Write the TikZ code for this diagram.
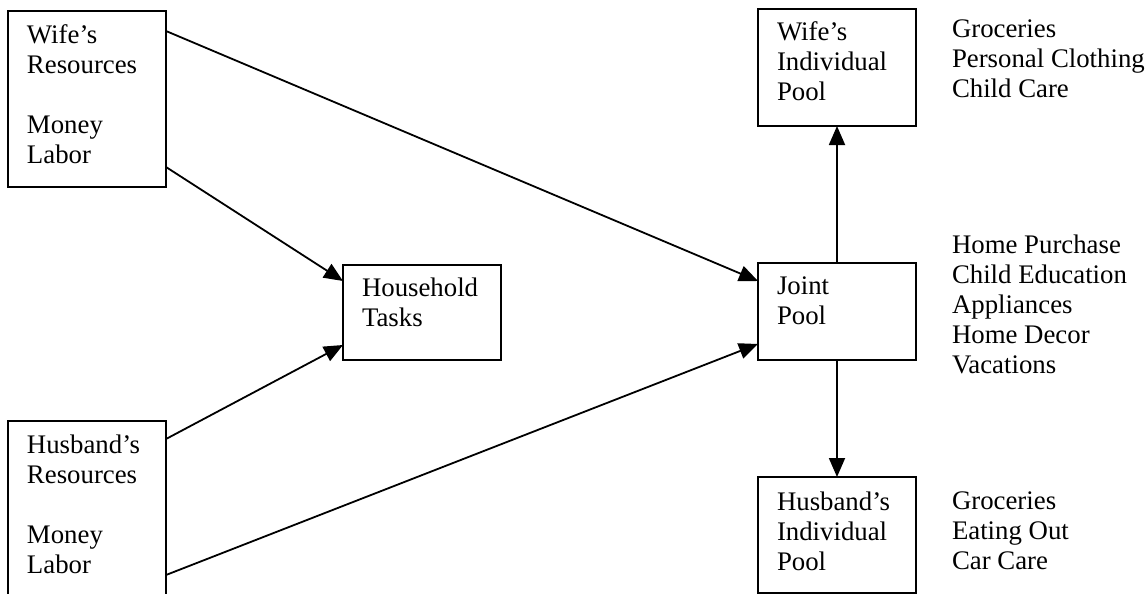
\documentclass[tikz,border=0pt]{standalone}
\usepackage{fontspec}
\setmainfont{Liberation Serif}
\usetikzlibrary{arrows.meta}

\tikzset{
  box/.style={draw, line width=2pt, rectangle, minimum width=158pt, inner sep=0pt, outer sep=0pt},
  txt/.style={anchor=north west, align=left, inner sep=0pt, outer sep=0pt,
              font=\fontsize{26.8}{30}\selectfont},
  link/.style={line width=1.8pt, -{Triangle[length=19pt,width=16pt]}},
}

\begin{document}
\begin{tikzpicture}[x=1pt, y=-1pt]
  \clip (0,0) rectangle (1148,594);
  \fill[white] (0,0) rectangle (1148,594);

  % boxes
  \node[box, minimum height=176pt] (wres)  at (87,99)    {};
  \node[box, minimum height=176pt] (hres)  at (87,509)   {};
  \node[box, minimum height=95pt]  (hh)    at (422,312.5) {};
  \node[box, minimum height=117pt] (wpool) at (837,67.5) {};
  \node[box, minimum height=97pt]  (joint) at (837,311.5) {};
  \node[box, minimum height=116pt] (hpool) at (837,535)  {};

  % box texts
  \node[txt] (wrest)  at (27,25)  {Wife’s\\Resources\\[30pt]Money\\Labor};
  \node[txt] (hrest)  at (27,435) {Husband’s\\Resources\\[30pt]Money\\Labor};
  \node[txt] (hht)    at (362,278) {Household\\Tasks};
  \node[txt] (wpoolt) at (777,22) {Wife’s\\Individual\\Pool};
  \node[txt] (jointt) at (777,277) {Joint\\Pool};
  \node[txt] (hpoolt) at (777,492) {Husband’s\\Individual\\Pool};

  % spending lists
  \node[txt] (wlist) at (952,20)  {Groceries\\Personal Clothing\\Child Care};
  \node[txt] (jlist) at (952,235) {Home Purchase\\Child Education\\Appliances\\Home Decor\\Vacations};
  \node[txt] (hlist) at (952,492) {Groceries\\Eating Out\\Car Care};

  % connectors
  \draw[link] ([yshift=-20pt]wres.north east) -- ([yshift=-18pt]joint.north west);
  \draw[link] ([yshift=20pt]wres.south east)  -- ([yshift=-16pt]hh.north west);
  \draw[link] ([yshift=-18pt]hres.north east) -- ([yshift=15pt]hh.south west);
  \draw[link] ([yshift=-154pt]hres.north east) -- ([yshift=16pt]joint.south west);
  \draw[link] (joint.north) -- (wpool.south);
  \draw[link] (joint.south) -- (hpool.north);
\end{tikzpicture}
\end{document}
